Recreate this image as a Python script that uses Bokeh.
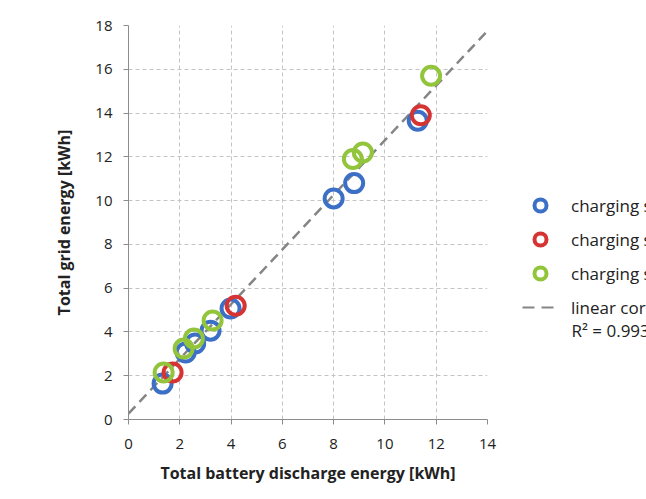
from bokeh.plotting import figure
from bokeh.models import Legend, LegendItem, Label, FixedTicker, Range1d
from bokeh.layouts import row
from bokeh.embed import file_html
from bokeh.resources import INLINE

blue_x = [1.33, 2.23, 2.6, 3.2, 3.98, 8.0, 8.8, 11.28]
blue_y = [1.64, 3.06, 3.47, 4.06, 5.07, 10.1, 10.8, 13.65]
red_x = [1.72, 4.18, 11.4]
red_y = [2.15, 5.2, 13.9]
green_x = [1.37, 2.15, 2.55, 3.28, 8.75, 9.14, 11.8]
green_y = [2.15, 3.24, 3.7, 4.52, 11.9, 12.2, 15.7]
fit_slope = 1.249
fit_intercept = 0.27
fit_x = [0, 14]
x_ticks = [0, 2, 4, 6, 8, 10, 12, 14]
y_ticks = [0, 2, 4, 6, 8, 10, 12, 14, 16, 18]
labels = ["charging strategy 1", "charging strategy 2", "charging strategy 3", "linear correlation"]
r2_label = "R\u00b2 = 0.993"

FONT = "Open Sans"
BLUE, RED, GREEN, GRAY = "#3c70c6", "#d63333", "#92c43c", "#858585"
H = 490

p = figure(width=500, height=H, output_backend="svg", toolbar_location=None,
           x_range=Range1d(0, 14), y_range=Range1d(0, 18),
           min_border_left=128, min_border_right=13, min_border_top=25, min_border_bottom=71)
p.outline_line_color = None

for ax, ticks in ((p.xaxis, x_ticks), (p.yaxis, y_ticks)):
    ax.ticker = FixedTicker(ticks=ticks)
    ax.axis_line_color = "#8c8c8c"
    ax.major_tick_line_color = "#8c8c8c"
    ax.major_tick_out = 5
    ax.major_tick_in = 0
    ax.minor_tick_line_color = None
    ax.major_label_text_font = FONT
    ax.major_label_text_font_size = "15px"
    ax.major_label_text_color = "#222222"
    ax.axis_label_text_font = FONT
    ax.axis_label_text_font_size = "16px"
    ax.axis_label_text_font_style = "bold"
    ax.axis_label_text_color = "#222222"

p.xaxis.axis_label = "Total battery discharge energy [kWh]"
p.yaxis.axis_label = "Total grid energy [kWh]"
p.xaxis.major_label_standoff = 14
p.xaxis.axis_label_standoff = 10
p.yaxis.major_label_standoff = 11
p.yaxis.axis_label_standoff = 17

for g in (p.xgrid, p.ygrid):
    g.grid_line_color = "#c4c4c4"
    g.grid_line_dash = "4 3"
    g.grid_line_width = 1
p.xgrid.ticker = FixedTicker(ticks=x_ticks)
p.ygrid.ticker = FixedTicker(ticks=y_ticks)

fit_y = [fit_slope * v + fit_intercept for v in fit_x]
p.line(fit_x, fit_y, line_color=GRAY, line_width=2.5, line_dash="10 6")

p.scatter(blue_x, blue_y, marker="circle", size=18, fill_color=None, line_color=BLUE, line_width=4)
p.scatter(red_x, red_y, marker="circle", size=18, fill_color=None, line_color=RED, line_width=4)
p.scatter(green_x, green_y, marker="circle", size=18, fill_color=None, line_color=GREEN, line_width=4)

# legend panel (its frame is aligned with the main frame: top 25, bottom 419)
q = figure(width=146, height=H, output_backend="svg", toolbar_location=None,
           x_range=Range1d(0, 1), y_range=Range1d(0, 1),
           min_border=0, min_border_left=0, min_border_right=0, min_border_top=0, min_border_bottom=0)
q.axis.visible = False
q.grid.visible = False
q.outline_line_color = None

# legend swatches: renderers kept outside the visible range
lb = q.scatter([-5], [-5], marker="circle", size=12, fill_color=None, line_color=BLUE, line_width=4)
lr = q.scatter([-5], [-5], marker="circle", size=12, fill_color=None, line_color=RED, line_width=4)
lg = q.scatter([-5], [-5], marker="circle", size=12, fill_color=None, line_color=GREEN, line_width=4)
ll = q.line([-5, -4], [-5, -4], line_color=GRAY, line_width=2, line_dash="12 7")

legend = Legend(items=[
    LegendItem(label=labels[0], renderers=[lb]),
    LegendItem(label=labels[1], renderers=[lr]),
    LegendItem(label=labels[2], renderers=[lg]),
    LegendItem(label=labels[3], renderers=[ll]),
], location=(22, 97))
legend.border_line_color = None
legend.background_fill_alpha = 0
legend.padding = 0
legend.margin = 0
legend.glyph_width = 36
legend.glyph_height = 30
legend.label_height = 30
legend.spacing = 4
legend.label_standoff = 13
legend.label_text_font = FONT
legend.label_text_font_size = "17px"
legend.label_text_color = "#222222"
q.add_layout(legend, "center")

r2 = Label(x=71, y=89, x_units="screen", y_units="screen", text=r2_label,
           text_font=FONT, text_font_size="17px", text_color="#222222", text_baseline="middle")
q.add_layout(r2)

open("out.html", "w").write(file_html(row(p, q), INLINE))
